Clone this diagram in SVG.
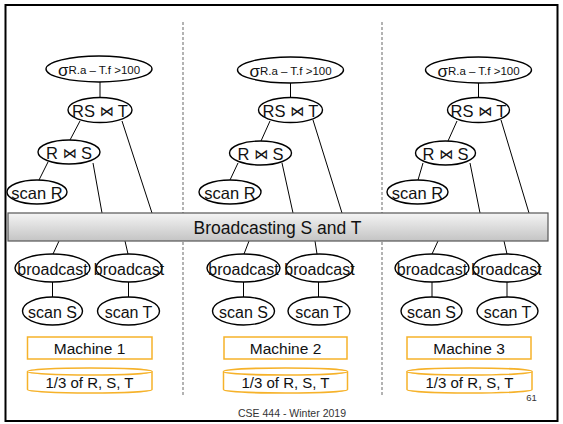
<svg xmlns="http://www.w3.org/2000/svg" width="563" height="424" viewBox="0 0 563 424">
  <defs>
    <linearGradient id="bannerFill" x1="0" y1="0" x2="0" y2="1">
      <stop offset="0" stop-color="#f4f4f4"/>
      <stop offset="1" stop-color="#c4c4c4"/>
    </linearGradient>
  </defs>
  <style>
    text { font-family: "Liberation Sans", Arial, "DejaVu Sans", sans-serif; fill: #111; text-anchor: middle; dominant-baseline: central; }
    .op ellipse, .leaf ellipse { fill: #fff; stroke: #000; stroke-width: 1.4; }
    .op text { font-size: 16.5px; }
    .op .bt { font-size: 14px; font-family: "DejaVu Sans", sans-serif; }
    .leaf text { font-size: 16px; }
    .sig .s { font-size: 17px; }
    .sig .c { font-size: 11.5px; }
    .edges line { stroke: #000; stroke-width: 1; }
    .divider { stroke: #9a9a9a; stroke-width: 1.5; stroke-dasharray: 3 2; }
    .machine rect { fill: #fff; stroke: #f6b22a; stroke-width: 1.5; }
    .machine text { font-size: 15.5px; }
    .disk path { fill: #fff; stroke: #f6b22a; stroke-width: 1.5; }
    .disk text { font-size: 15px; }
  </style>

  <!-- slide frame -->
  <rect x="5.5" y="5" width="552" height="416" fill="#fff" stroke="#000" stroke-width="2"/>

  <!-- column dividers -->
  <line class="divider" x1="183" y1="22" x2="183" y2="397"/>
  <line class="divider" x1="382" y1="22" x2="382" y2="397"/>

  <!-- connectors -->
  <g class="edges">
    <!-- machine 1 -->
    <line x1="100" y1="82" x2="100" y2="98"/>
    <line x1="80" y1="121" x2="70" y2="140"/>
    <line x1="48" y1="162" x2="39" y2="180"/>
    <line x1="93" y1="163" x2="102" y2="213"/>
    <line x1="122" y1="121" x2="152" y2="213"/>
    <line x1="59" y1="241" x2="53" y2="254"/>
    <line x1="125" y1="241" x2="128" y2="254"/>
    <line x1="52.5" y1="282" x2="52.5" y2="297"/>
    <line x1="128.5" y1="282" x2="128.5" y2="297"/>
    <!-- machine 2 -->
    <line x1="290.5" y1="83" x2="290.5" y2="98"/>
    <line x1="270" y1="121" x2="261" y2="141"/>
    <line x1="238" y1="163" x2="230" y2="180"/>
    <line x1="282" y1="163" x2="293" y2="213"/>
    <line x1="313" y1="120" x2="342" y2="213"/>
    <line x1="249" y1="241" x2="244" y2="254"/>
    <line x1="315" y1="241" x2="317" y2="254"/>
    <line x1="243.5" y1="282" x2="243.5" y2="297"/>
    <line x1="318.5" y1="282" x2="318.5" y2="297"/>
    <!-- machine 3 -->
    <line x1="478.5" y1="83" x2="478.5" y2="98"/>
    <line x1="457" y1="121" x2="448" y2="141"/>
    <line x1="423" y1="163" x2="418" y2="180"/>
    <line x1="470" y1="163" x2="480" y2="213"/>
    <line x1="501" y1="120" x2="529" y2="213"/>
    <line x1="438" y1="241" x2="432" y2="254"/>
    <line x1="504" y1="241" x2="507" y2="254"/>
    <line x1="432" y1="282" x2="432" y2="297"/>
    <line x1="507" y1="282" x2="507" y2="297"/>
  </g>

  <!-- machine 1 plan -->
  <g id="m1-select" class="op sig"><ellipse cx="99" cy="69" rx="53" ry="13"/><text x="99" y="70"><tspan class="s">σ</tspan><tspan class="c">R.a – T.f &gt;100</tspan></text></g>
  <g id="m1-join-t" class="op"><ellipse cx="100" cy="110" rx="32" ry="12.5"/><text x="100" y="110.5">RS <tspan class="bt">⋈</tspan> T</text></g>
  <g id="m1-join-s" class="op"><ellipse cx="69" cy="152" rx="31" ry="12"/><text x="69" y="152.5">R <tspan class="bt">⋈</tspan> S</text></g>
  <g id="m1-scan-r" class="op"><ellipse cx="37" cy="192" rx="30" ry="12"/><text x="37" y="192.5">scan R</text></g>
  <g id="m1-bcast-s" class="leaf"><ellipse cx="52.5" cy="268" rx="37.5" ry="14"/><text x="52.5" y="269">broadcast</text></g>
  <g id="m1-bcast-t" class="leaf"><ellipse cx="129" cy="268" rx="33" ry="14"/><text x="129" y="269">broadcast</text></g>
  <g id="m1-scan-s" class="leaf"><ellipse cx="52.5" cy="311" rx="30" ry="14"/><text x="52.5" y="312">scan S</text></g>
  <g id="m1-scan-t" class="leaf"><ellipse cx="128.5" cy="311" rx="31" ry="14"/><text x="128.5" y="312">scan T</text></g>
  <g id="m1-box" class="machine"><rect x="27.5" y="337" width="124.5" height="22"/><text x="89.5" y="348.5">Machine 1</text></g>
  <g id="m1-disk" class="disk">
    <path d="M27.5,371.5 A62.25,3.5 0 0 1 152,371.5 L152,389.5 A62.25,3.5 0 0 1 27.5,389.5 Z"/>
    <path d="M27.5,371.5 A62.25,3.5 0 0 0 152,371.5"/>
    <text x="89.5" y="382">1/3 of R, S, T</text>
  </g>

  <!-- machine 2 plan -->
  <g id="m2-select" class="op sig"><ellipse cx="290.5" cy="70" rx="53" ry="13"/><text x="290.5" y="71"><tspan class="s">σ</tspan><tspan class="c">R.a – T.f &gt;100</tspan></text></g>
  <g id="m2-join-t" class="op"><ellipse cx="290.5" cy="110" rx="32" ry="12.5"/><text x="290.5" y="110.5">RS <tspan class="bt">⋈</tspan> T</text></g>
  <g id="m2-join-s" class="op"><ellipse cx="260.5" cy="153" rx="31" ry="12"/><text x="260.5" y="153.5">R <tspan class="bt">⋈</tspan> S</text></g>
  <g id="m2-scan-r" class="op"><ellipse cx="230" cy="192" rx="31" ry="12"/><text x="230" y="192.5">scan R</text></g>
  <g id="m2-bcast-s" class="leaf"><ellipse cx="243.5" cy="268" rx="36.5" ry="14"/><text x="243.5" y="269">broadcast</text></g>
  <g id="m2-bcast-t" class="leaf"><ellipse cx="319.5" cy="268" rx="33.5" ry="14"/><text x="319.5" y="269">broadcast</text></g>
  <g id="m2-scan-s" class="leaf"><ellipse cx="243.5" cy="311" rx="31" ry="14"/><text x="243.5" y="312">scan S</text></g>
  <g id="m2-scan-t" class="leaf"><ellipse cx="319" cy="311" rx="31" ry="14"/><text x="319" y="312">scan T</text></g>
  <g id="m2-box" class="machine"><rect x="224" y="337" width="123" height="22"/><text x="285.5" y="348.5">Machine 2</text></g>
  <g id="m2-disk" class="disk">
    <path d="M223.5,371.5 A62,3.5 0 0 1 347.5,371.5 L347.5,389.5 A62,3.5 0 0 1 223.5,389.5 Z"/>
    <path d="M223.5,371.5 A62,3.5 0 0 0 347.5,371.5"/>
    <text x="285.5" y="382">1/3 of R, S, T</text>
  </g>

  <!-- machine 3 plan -->
  <g id="m3-select" class="op sig"><ellipse cx="478.5" cy="70" rx="53" ry="13"/><text x="478.5" y="71"><tspan class="s">σ</tspan><tspan class="c">R.a – T.f &gt;100</tspan></text></g>
  <g id="m3-join-t" class="op"><ellipse cx="478.5" cy="110" rx="31" ry="12.5"/><text x="478.5" y="110.5">RS <tspan class="bt">⋈</tspan> T</text></g>
  <g id="m3-join-s" class="op"><ellipse cx="445.5" cy="153" rx="30" ry="12"/><text x="445.5" y="153.5">R <tspan class="bt">⋈</tspan> S</text></g>
  <g id="m3-scan-r" class="op"><ellipse cx="417.5" cy="192" rx="30.5" ry="12"/><text x="417.5" y="192.5">scan R</text></g>
  <g id="m3-bcast-s" class="leaf"><ellipse cx="432" cy="268" rx="37" ry="14"/><text x="432" y="269">broadcast</text></g>
  <g id="m3-bcast-t" class="leaf"><ellipse cx="506.5" cy="268" rx="33.5" ry="14"/><text x="506.5" y="269">broadcast</text></g>
  <g id="m3-scan-s" class="leaf"><ellipse cx="431.5" cy="311" rx="30.5" ry="14"/><text x="431.5" y="312">scan S</text></g>
  <g id="m3-scan-t" class="leaf"><ellipse cx="507.5" cy="311" rx="30.5" ry="14"/><text x="507.5" y="312">scan T</text></g>
  <g id="m3-box" class="machine"><rect x="407" y="337" width="124" height="22"/><text x="469" y="348.5">Machine 3</text></g>
  <g id="m3-disk" class="disk">
    <path d="M407,371.5 A62.5,3.5 0 0 1 532,371.5 L532,389.5 A62.5,3.5 0 0 1 407,389.5 Z"/>
    <path d="M407,371.5 A62.5,3.5 0 0 0 532,371.5"/>
    <text x="469.5" y="382">1/3 of R, S, T</text>
  </g>

  <!-- shared broadcast banner -->
  <g id="banner">
    <rect x="8" y="213" width="540" height="28" fill="url(#bannerFill)" stroke="#555" stroke-width="1.2"/>
    <text x="277.5" y="228" style="font-size:17.5px">Broadcasting S and T</text>
  </g>

  <!-- footer -->
  <text x="292" y="413" style="font-size:10.5px; fill:#333">CSE 444 - Winter 2019</text>
  <text x="531.5" y="397" style="font-size:9.5px; fill:#333">61</text>
</svg>
